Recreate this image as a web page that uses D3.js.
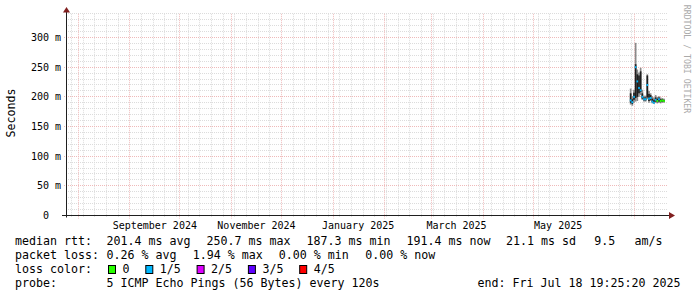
<!DOCTYPE html>
<html><head><meta charset="utf-8">
<script src="https://cdn.jsdelivr.net/npm/d3@7"></script>
<style>
html,body{margin:0;padding:0;background:#fff;}
svg{display:block;}
text{font-family:"DejaVu Sans Mono",monospace;white-space:pre;}
</style></head><body>
<svg id="c" width="697" height="297"></svg>
<script>
// ---------- data ----------
const endTime = new Date(2025, 6, 18, 19, 25, 20);
const rangeDays = 360;
const yMax = 0.34;
const yTicks = [0, 0.05, 0.10, 0.15, 0.20, 0.25, 0.30];
const yTickLabels = ["0  ", "50 m", "100 m", "150 m", "200 m", "250 m", "300 m"];
const monthLabelDates = ["2024-09-01", "2024-11-01", "2025-01-01", "2025-03-01", "2025-05-01"];
const monthLabels = ["September 2024", "November 2024", "January 2025", "March 2025", "May 2025"];

const rowDates = ["2025-06-28","2025-06-29","2025-06-30","2025-07-01","2025-07-02","2025-07-03","2025-07-04",
  "2025-07-05","2025-07-06","2025-07-07","2025-07-08","2025-07-09","2025-07-10","2025-07-11","2025-07-12",
  "2025-07-13","2025-07-14","2025-07-15","2025-07-16","2025-07-17","2025-07-18"];
// ms values
const pingMin = [187,185,190,192,193,200,203,195,192,192,196,190,193,189,188,190,189,190,189,190,190];
const pingP2  = [190,188,195,198,200,206,208,197,194,194,199,193,195,191,190,192,191,192,191,192,192];
const medianRtt=[194,191,200,250,226,215,211,200,196,196,220,197,198,192,190,195,193,196,193,194,193];
const pingP4  = [206,196,207,255,238,236,243,206,199,199,236,205,203,197,195,199,197,199,196,196,195];
const pingMax = [214,201,212,291,246,241,249,212,202,202,238,210,206,201,199,203,200,201,199,198,197];
const lossIdx = [1,1,1,1,1,1,1,1,1,1,1,1,1,1,1,1,0,1,0,0,0];

const lossLabels = ["0", "1/5", "2/5", "3/5", "4/5"];
const lossColors = ["#26ff00", "#00b8ff", "#dd00ff", "#5e00ff", "#ff0000"];

const statLabel1 = "median rtt:";
const stats1 = ["201.4 ms avg", "250.7 ms max", "187.3 ms min", "191.4 ms now", "21.1 ms sd", "9.5", "am/s"];
const statLabel2 = "packet loss:";
const stats2 = ["0.26 % avg", "1.94 % max", "0.00 % min", "0.00 % now"];
const lossLegendLabel = "loss color:";
const probeLabel = "probe:";
const probeText = "5 ICMP Echo Pings (56 Bytes) every 120s";
const endText = "end: Fri Jul 18 19:25:20 2025";
const yTitle = "Seconds";
const watermark = "RRDTOOL / TOBI OETIKER";

// ---------- layout ----------
const svg = d3.select("#c");
const frameL = 66, frameR = 666, yBot = 215.5, yTop = 13.8;
const tStart = d3.timeDay.offset(endTime, -rangeDays);
const x = d3.scaleTime().domain([tStart, endTime]).range([64.5, 664.5]);
const y = d3.scaleLinear().domain([0, yMax]).range([yBot, yTop]);
const parseDay = d3.timeParse("%Y-%m-%d");
const crisp = v => Math.floor(v) + 0.5;

svg.append("rect").attr("width", 697).attr("height", 297).attr("fill", "#fff");

const grid = svg.append("g");
const minorCol = "#dcdcdc", majorCol = "#efbaba";
const hMinor = d3.range(1, 35).map(i => i / 100).filter(v => Math.round(v * 100) % 5 !== 0);
grid.selectAll(".hm").data(hMinor).join("line")
  .attr("x1", frameL).attr("x2", frameR + 2)
  .attr("y1", d => crisp(y(d))).attr("y2", d => crisp(y(d)))
  .attr("stroke", minorCol).attr("stroke-dasharray", "1,1");
const weeks = d3.timeSunday.range(tStart, endTime).filter(d => d3.timeMonth.floor(d).getTime() !== d.getTime());
grid.selectAll(".vm").data(weeks).join("line")
  .attr("x1", d => crisp(x(d))).attr("x2", d => crisp(x(d)))
  .attr("y1", yTop).attr("y2", yBot + 2)
  .attr("stroke", minorCol).attr("stroke-dasharray", "1,1");
grid.selectAll(".hM").data(yTicks.slice(1)).join("line")
  .attr("x1", frameL - 2).attr("x2", frameR + 2)
  .attr("y1", d => crisp(y(d))).attr("y2", d => crisp(y(d)))
  .attr("stroke", majorCol).attr("stroke-dasharray", "1,1");
const months = d3.timeMonth.range(tStart, endTime);
grid.selectAll(".vM").data(months).join("line")
  .attr("x1", d => crisp(x(d))).attr("x2", d => crisp(x(d)))
  .attr("y1", yTop).attr("y2", yBot + 3)
  .attr("stroke", majorCol).attr("stroke-dasharray", "1,1");

// ---------- data marks ----------
const rows = rowDates.map((d, i) => {
  const t0 = parseDay(d);
  return { t0, t1: d3.timeDay.offset(t0, 1), mn: pingMin[i] / 1000, p2: pingP2[i] / 1000,
    med: medianRtt[i] / 1000, p4: pingP4[i] / 1000, mx: pingMax[i] / 1000, loss: lossIdx[i] };
});
const marks = svg.append("g");
marks.selectAll(".so").data(rows).join("rect")
  .attr("x", d => x(d.t0)).attr("width", d => x(d.t1) - x(d.t0))
  .attr("y", d => y(d.mx)).attr("height", d => y(d.mn) - y(d.mx))
  .attr("fill", "#8a8a8a");
marks.selectAll(".si").data(rows).join("rect")
  .attr("x", d => x(d.t0)).attr("width", d => x(d.t1) - x(d.t0))
  .attr("y", d => y(d.p4)).attr("height", d => y(d.p2) - y(d.p4))
  .attr("fill", "#1e1e1e");
marks.selectAll(".md").data(rows).join("rect")
  .attr("x", d => x(d.t0)).attr("width", d => x(d.t1) - x(d.t0))
  .attr("y", d => y(d.med) - 1).attr("height", 2)
  .attr("fill", d => lossColors[d.loss]);

// ---------- axes ----------
const axCol = "#1f1f1f", arrowCol = "#801f1f";
svg.append("line").attr("x1", frameL + 0.5).attr("x2", frameL + 0.5).attr("y1", yBot + 2).attr("y2", 10)
  .attr("stroke", axCol);
svg.append("line").attr("x1", frameL - 4).attr("x2", frameR + 4).attr("y1", yBot).attr("y2", yBot)
  .attr("stroke", axCol);
svg.append("path").attr("d", `M${frameL - 3},12.5 L${frameL + 4},12.5 L${frameL + 0.5},7 Z`).attr("fill", arrowCol);
svg.append("path").attr("d", `M${frameR + 3},${yBot - 3.5} L${frameR + 3},${yBot + 3.5} L${frameR + 9},${yBot} Z`).attr("fill", arrowCol);

svg.selectAll(".yl").data(yTicks).join("text")
  .attr("x", 61).attr("y", d => crisp(y(d)) + 3.6)
  .attr("text-anchor", "end").attr("font-size", "10px").attr("fill", "#000")
  .attr("xml:space", "preserve")
  .text((d, i) => yTickLabels[i]);
svg.selectAll(".xl").data(monthLabelDates).join("text")
  .attr("x", d => x(d3.timeDay.offset(parseDay(d), 15)))
  .attr("y", 229).attr("text-anchor", "middle").attr("font-size", "10px").attr("fill", "#000")
  .text((d, i) => monthLabels[i]);

svg.append("text").attr("transform", "translate(15,113) rotate(-90)")
  .attr("text-anchor", "middle").attr("font-size", "11.6px").attr("fill", "#000").text(yTitle);
svg.append("text").attr("transform", "translate(684,59) rotate(90)")
  .attr("text-anchor", "middle").attr("font-size", "8.2px").attr("fill", "#aaaaaa").text(watermark);

// ---------- legend ----------
const lf = "11.63px";
const leg = svg.append("g").attr("font-size", lf).attr("fill", "#000");
const line1X = [106.5, 206.5, 306.5, 406.5, 506, 594.2, 634.5];
leg.append("text").attr("x", 15).attr("y", 245.3).text(statLabel1);
leg.selectAll(".s1").data(stats1).join("text").attr("x", (d, i) => line1X[i]).attr("y", 245.3).text(d => d);
const line2X = [106.5, 192.7, 278.8, 365.2];
leg.append("text").attr("x", 15).attr("y", 259.3).text(statLabel2);
leg.selectAll(".s2").data(stats2).join("text").attr("x", (d, i) => line2X[i]).attr("y", 259.3).text(d => d);
leg.append("text").attr("x", 15).attr("y", 273.3).text(lossLegendLabel);
let bx = 108;
lossLabels.forEach((lab, i) => {
  leg.append("rect").attr("x", bx + 0.5).attr("y", 265.5).attr("width", 7).attr("height", 8)
    .attr("fill", lossColors[i]).attr("stroke", "#000").attr("stroke-width", 1);
  leg.append("text").attr("x", bx + 14.5).attr("y", 273.3).text(lab);
  bx = bx + 15 + lab.length * 7.0 + 15.3;
});
leg.append("text").attr("x", 15).attr("y", 287.3).text(probeLabel);
leg.append("text").attr("x", 106.5).attr("y", 287.3).text(probeText);
leg.append("text").attr("x", 680.5).attr("y", 287.3).attr("text-anchor", "end").text(endText);
</script>
</body></html>
